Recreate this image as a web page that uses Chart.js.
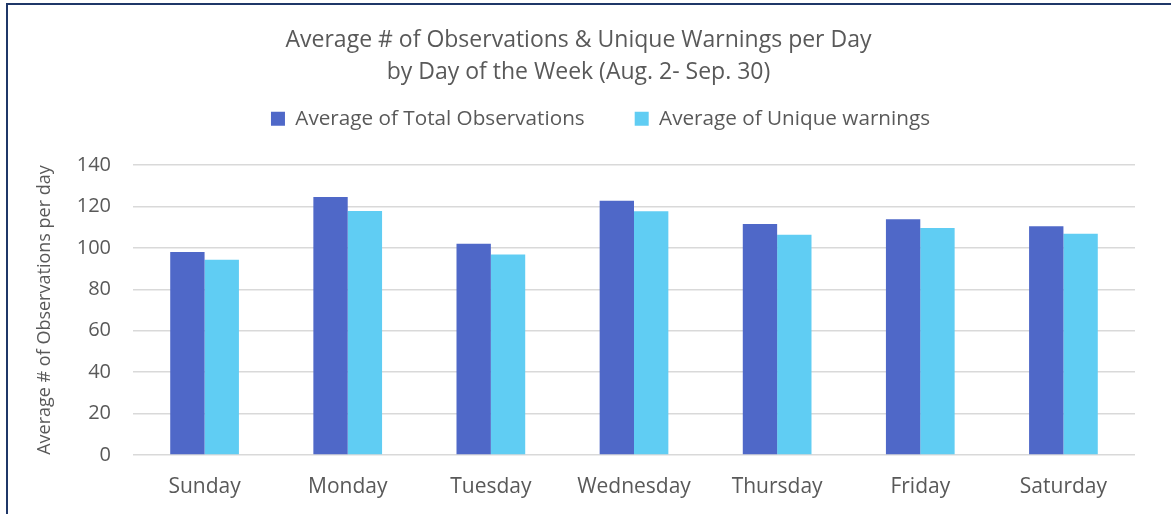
<!DOCTYPE html>
<html>
<head>
<meta charset="utf-8">
<script src="https://cdn.jsdelivr.net/npm/chart.js@4/dist/chart.umd.min.js"></script>
<style>
  html, body { margin: 0; padding: 0; background: #fff; }
  #wrap {
    position: relative;
    width: 1171px;
    height: 514px;
    overflow: hidden;
  }
  #frame {
    position: absolute;
    left: 6px;
    top: 3px;
    width: 1200px;
    height: 600px;
    border-top: 2px solid #1f3768;
    border-left: 2px solid #1f3768;
  }
  canvas { position: absolute; left: 0; top: 0; }
</style>
</head>
<body>
<div id="wrap">
  <div id="frame"></div>
  <canvas id="chart" width="1171" height="514"></canvas>
</div>
<script>
// values
const days = ["Sunday", "Monday", "Tuesday", "Wednesday", "Thursday", "Friday", "Saturday"];
const totalObs = [98, 124.6, 102, 122.8, 111.6, 113.8, 110.5];
const uniqueWarnings = [94.3, 117.8, 96.8, 117.7, 106.4, 109.6, 106.8];
const yTicks = [0, 20, 40, 60, 80, 100, 120, 140];

const FONT = "'Open Sans', Lato, sans-serif";
const GREY = "#595959";

// legend needs more room below it and sits a bit right of centre
const legendSpacer = {
    id: "legendSpacer",
    beforeLayout(chart) {
        const legend = chart.legend;
        if (legend && !legend._patched) {
            const fit = legend.fit;
            legend.fit = function () {
                fit.call(this);
                this.height += 26;
                if (this.lineWidths && this.lineWidths.length) {
                    this.lineWidths[0] -= 56;
                }
            };
            legend._patched = true;
        }
    },
    afterLayout(chart) {
        // title is centred a few px right of the plot in the original
        if (chart.titleBlock) {
            chart.titleBlock.left += 6;
            chart.titleBlock.right += 6;
        }
    },
};

const chartConfig = {
    type: "bar",
    data: {
        labels: days,
        datasets: [
            {
                label: "Average of Total Observations",
                data: totalObs,
                backgroundColor: "#4f68c8",
                categoryPercentage: 0.48,
                barPercentage: 1.0,
            },
            {
                label: "Average of Unique warnings",
                data: uniqueWarnings,
                backgroundColor: "#60cdf3",
                categoryPercentage: 0.48,
                barPercentage: 1.0,
            },
        ],
    },
    options: {
        responsive: false,
        animation: false,
        layout: {
            padding: { left: 10, right: 36, top: 0, bottom: 14 },
        },
        scales: {
            x: {
                grid: { display: false, drawTicks: false },
                border: { display: false },
                ticks: {
                    color: GREY,
                    font: { family: FONT, size: 21 },
                    padding: 19,
                },
                afterFit: (scale) => {
                    scale.height = 45;
                },
            },
            y: {
                min: 0,
                max: 140,
                afterBuildTicks: (scale) => {
                    scale.ticks = yTicks.map((v) => ({ value: v }));
                },
                grid: {
                    color: "#d9d9d9",
                    lineWidth: 1.5,
                    drawTicks: false,
                },
                border: { display: false },
                ticks: {
                    color: GREY,
                    font: { family: FONT, size: 20 },
                    padding: 22,
                },
                title: {
                    display: true,
                    text: "Average # of Observations per day",
                    color: GREY,
                    font: { family: FONT, size: 18 },
                    padding: { top: 24, bottom: 4 },
                },
                afterFit: (scale) => {
                    scale.width = 123;
                },
            },
        },
        plugins: {
            title: {
                display: true,
                text: [
                    "Average # of Observations & Unique Warnings per Day",
                    "by Day of the Week (Aug. 2- Sep. 30)",
                ],
                color: GREY,
                font: { family: FONT, size: 23, weight: "normal", lineHeight: 1.4 },
                padding: { top: 24, bottom: -30 },
            },
            legend: {
                labels: {
                    color: GREY,
                    font: { family: FONT, size: 20.7 },
                    boxWidth: 14,
                    boxHeight: 14,
                    padding: 50,
                },
            },
            tooltip: { enabled: false },
        },
    },
    plugins: [legendSpacer],
};

new Chart(document.getElementById("chart"), chartConfig);
</script>
</body>
</html>
